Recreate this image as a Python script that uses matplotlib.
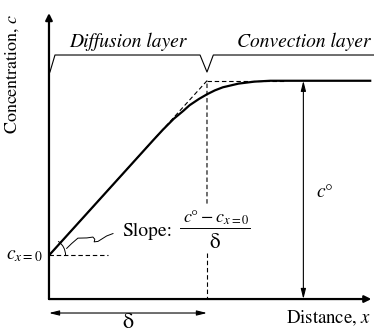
import numpy as np
import matplotlib.pyplot as plt
from matplotlib.patches import Arc

plt.rcParams['font.family'] = ['STIXGeneral', 'DejaVu Serif']
plt.rcParams['mathtext.fontset'] = 'stix'

# schematic values (delta = 1, c_bulk = 1)
delta = 1.0
c_bulk = 1.0
c_x0 = 0.2
x_end = 2.04
y_end = 1.31

# concentration profile
dist = [0, 0.55, 0.66, 0.72, 0.79, 0.85, 0.89, 0.95, 1.0, 1.05, 1.1, 1.2, 1.3, 1.4, 1.5, 2.04]
conc = [0.2, 0.64, 0.728, 0.775, 0.826, 0.862, 0.888, 0.917, 0.938, 0.956, 0.970, 0.987, 0.996, 1.0, 1.0, 1.0]

# bracket above the plot
br_x = [0.006, 0.038, 0.956, 1.0, 1.04, 2.1]
br_y = [1.04, 1.118, 1.118, 1.04, 1.118, 1.118]

# squiggle from the angle to the "Slope" label
sq_x = [0.112, 0.143, 0.183, 0.24, 0.278, 0.29, 0.286, 0.31, 0.365, 0.405]
sq_y = [0.232, 0.254, 0.279, 0.28, 0.284, 0.274, 0.262, 0.264, 0.289, 0.30]

fig = plt.figure(figsize=(3.74, 3.32), dpi=100)
ax = fig.add_axes([0, 0, 1, 1])
ax.set_xlim(-0.310, 2.057)
ax.set_ylim(-0.151, 1.370)
ax.axis('off')

# axes with arrows
ax.annotate('', xy=(0, y_end), xytext=(0, 0),
            arrowprops=dict(arrowstyle='-|>', mutation_scale=10, lw=1.6, color='k', shrinkA=0, shrinkB=0))
ax.annotate('', xy=(x_end, 0), xytext=(0, 0),
            arrowprops=dict(arrowstyle='-|>', mutation_scale=10, lw=1.6, color='k', shrinkA=0, shrinkB=0))

# profile
ax.plot(dist, conc, color='k', lw=1.6, solid_capstyle='butt')

# dashed construction lines (vertical one broken around the slope fraction)
dash = (0, (4, 2.5))
ax.plot([0, delta, delta], [c_x0, c_bulk, 0.43], color='k', lw=0.8, ls=dash)
ax.plot([delta, delta], [0.21, 0], color='k', lw=0.8, ls=dash)
ax.plot([delta, 1.5], [c_bulk, c_bulk], color='k', lw=0.8, ls=dash)
ax.plot([0, 0.375], [c_x0, c_x0], color='k', lw=0.8, ls=dash)

# bracket
ax.plot(br_x, br_y, color='k', lw=0.8)

# angle arc and squiggle
ax.add_patch(Arc((0, c_x0), 0.21, 0.155, theta1=0, theta2=48, color='k', lw=0.7))
ax.plot(sq_x, sq_y, color='k', lw=0.7)

# c° double arrow
ax.annotate('', xy=(1.61, c_bulk), xytext=(1.61, 0),
            arrowprops=dict(arrowstyle='<|-|>,head_length=0.6,head_width=0.15', mutation_scale=10,
                            lw=0.8, color='k', shrinkA=0, shrinkB=0))
# delta double arrow
ax.annotate('', xy=(0, -0.064), xytext=(delta, -0.064),
            arrowprops=dict(arrowstyle='<|-|>,head_length=0.6,head_width=0.15', mutation_scale=10,
                            lw=0.8, color='k', shrinkA=0, shrinkB=0))

# labels
ax.text(0.5, 1.154, 'Diffusion layer', style='italic', fontsize=14, ha='center', va='baseline')
ax.text(1.61, 1.154, 'Convection layer', style='italic', fontsize=14, ha='center', va='baseline')
ax.text(-0.232, 1.31, 'Concentration, $c$', rotation=90, fontsize=13, ha='center', va='top')
ax.text(2.04, -0.087, 'Distance, $x$', fontsize=13.5, ha='right', va='center')
ax.text(0.5, -0.112, 'δ', fontsize=16, ha='center', va='center')
ax.text(-0.04, c_x0, r'$c_{x=0}$', fontsize=14, ha='right', va='center')
ax.text(1.69, 0.49, r'$c°$', fontsize=14, ha='left', va='center')
ax.text(0.462, 0.31, 'Slope:', fontsize=14, ha='left', va='center')

# slope fraction: numerator, bar, denominator
ax.text(1.057, 0.371, r'$c° - c_{x=0}$', fontsize=13, ha='center', va='center')
ax.plot([0.83, 1.27], [0.325, 0.325], color='k', lw=0.7)
ax.text(1.05, 0.255, 'δ', fontsize=15, ha='center', va='center')

fig.savefig('out.png', dpi=100)
